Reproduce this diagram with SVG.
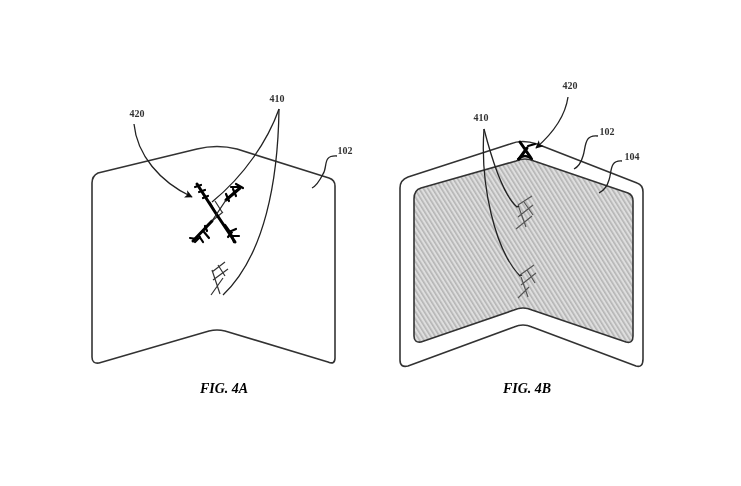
<svg xmlns="http://www.w3.org/2000/svg" width="741" height="486" viewBox="0 0 741 486">
<defs>
<pattern id="fill104" width="3.8" height="3.8" patternUnits="userSpaceOnUse" patternTransform="rotate(-32)">
<rect width="3.8" height="3.8" fill="#dedede"/>
<rect width="1.6" height="3.8" fill="#b4b4b4"/>
</pattern>
<filter id="soft" x="-5%" y="-5%" width="110%" height="110%"><feGaussianBlur stdDeviation="0.3"/></filter>
<marker id="arrow" viewBox="0 0 10 10" refX="9" refY="5" markerWidth="8" markerHeight="8" markerUnits="userSpaceOnUse" orient="auto"><path d="M0 0L10 5L0 10L2.5 5Z" fill="#111"/></marker>
</defs>
<style>
.body{fill:#fff;stroke:#333;stroke-width:1.6;stroke-linejoin:round}
.lead{fill:none;stroke:#222;stroke-width:1.3}
.hatch{fill:none;stroke:#333;stroke-width:1.2}
.hatchb{fill:none;stroke:#555;stroke-width:1.2}
.x{fill:none;stroke:#000;stroke-width:3;stroke-linecap:round}
.b{fill:none;stroke:#000;stroke-width:2.2;stroke-linecap:round}
text{font-family:"Liberation Serif",serif;font-size:10px;font-weight:bold;fill:#333;text-anchor:middle}
.cap{font-size:14px;font-weight:bold;font-style:italic;fill:#000}
</style>
<rect width="741" height="486" fill="#fff"/>
<g filter="url(#soft)">
<g id="fig4a">
<path id="panel-a" class="body" d="M92 183Q92 176 98 173L197 149Q217 144 237 149L329 178Q335 180 335 186V358Q335 365 328 362L225 331Q217 329 209 331L99 363Q92 364 92 357Z"/>
<path class="hatch" d="M225 262L212 272M228 269L213 280M223 278L211 295M212 270L220 294M218 265L225 276"/>
<path class="hatch" d="M210 202L218 217M215 201L222 212M223 212L207 225"/>
<path class="x" d="M197 184L215 212L235 242"/>
<path class="x" d="M240 188L226 200M212 221L193 241"/>
<path class="lead" d="M226 200L212 221"/>
<path class="b" d="M195 187L201 185M199 192L205 190M203 198L208 196M225 225L230 232M229 232L236 229M232 236L239 236M228 237L232 232M234 242L231 234M226 194L229 201M233 189L236 196M231 187L241 187M236 184L243 188M204 232L209 238M199 236L203 242M190 238L197 239M195 242L200 237M205 226L207 231"/>
</g>
<g id="fig4b">
<path id="panel-b" class="body" d="M400 188Q400 180 408 177L510 144Q522 139 537 144L637 183Q643 185 643 192V359Q643 368 636 366L532 327Q523 323 514 327L408 366Q400 368 400 360Z"/>
<path id="display-b" d="M414 199Q414 190 421 188L516 161Q525 157 534 161L628 193Q633 195 633 201V336Q633 344 626 342L532 310Q523 306 514 310L421 342Q414 343 414 336Z" fill="url(#fill104)" stroke="#333" stroke-width="1.6" stroke-linejoin="round"/>
<path class="hatchb" d="M532 196L518 205M533 205L518 217M532 216L516 229M518 205L526 227M524 202L533 215"/>
<path class="hatchb" d="M534 265L520 275M536 273L521 285M529 287L518 298M521 277L528 297M527 270L535 283"/>
<path class="x" d="M520 142L531 158M527 148L519 159"/>
<path class="b" d="M518 159Q525 153 532 159M528 146L535 144"/>
</g>
<g id="connectors">
<path class="lead" marker-end="url(#arrow)" d="M134 124C137 155 160 182 192 197"/>
<path class="lead" d="M279 109C268 140 245 175 212 202"/>
<path class="lead" d="M279 109C278 180 265 255 223 295"/>
<path class="lead" d="M337 156C322 155 328 167 323 174C320 180 316 186 312 188"/>
<path class="lead" marker-end="url(#arrow)" d="M568 97C565 118 552 134 536 148"/>
<path class="lead" d="M484 129C492 160 503 195 517 207L519 206"/>
<path class="lead" d="M484 129C480 185 495 250 520 276L522 275"/>
<path class="lead" d="M598 136C584 134 586 147 583 156C581 163 578 167 574 169"/>
<path class="lead" d="M622 161C609 160 612 172 609 180C607 187 603 191 599 193"/>
</g>
<g id="labels">
<text x="137" y="117">420</text>
<text x="277" y="102">410</text>
<text x="345" y="154">102</text>
<text x="570" y="89">420</text>
<text x="481" y="121">410</text>
<text x="607" y="135">102</text>
<text x="632" y="160">104</text>
<text class="cap" x="224" y="393">FIG. 4A</text>
<text class="cap" x="527" y="393">FIG. 4B</text>
</g>
</g>
</svg>
